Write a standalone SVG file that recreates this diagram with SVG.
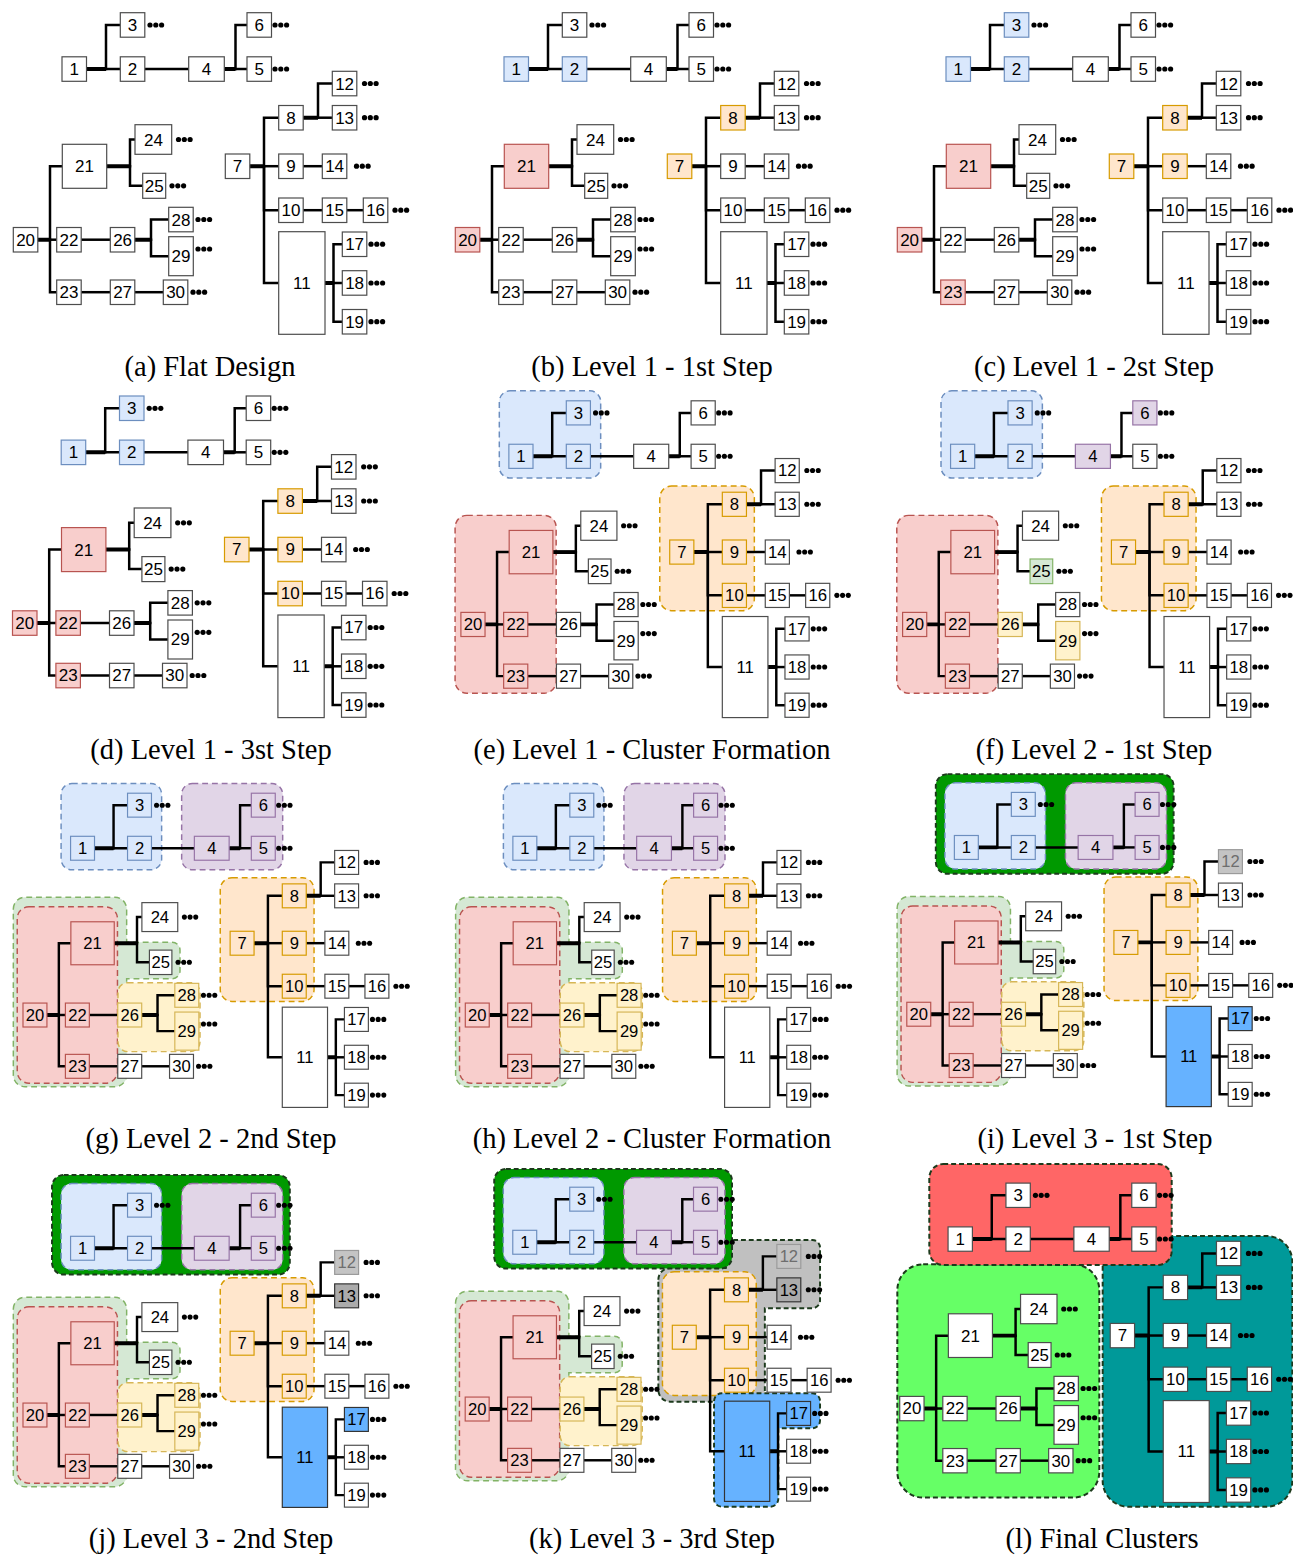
<svg xmlns="http://www.w3.org/2000/svg" xmlns:xlink="http://www.w3.org/1999/xlink" width="1293" height="1555" viewBox="0 0 1293 1555">
<style>
.n rect{stroke-width:1.2}
.n text{font-family:"Liberation Sans",Arial,sans-serif;font-size:17px;text-anchor:middle;fill:#000}
.w rect{fill:#fff;stroke:#4d4d4d}
.bl rect{fill:#dae8fc;stroke:#6c8ebf}
.rd rect{fill:#f8cecc;stroke:#b85450}
.or rect{fill:#ffe6cc;stroke:#d79b00}
.pu rect{fill:#e1d5e7;stroke:#9673a6}
.gr rect{fill:#d5e8d4;stroke:#82b366}
.ye rect{fill:#fff2cc;stroke:#d6b656}
.g1 rect{fill:#c4c4c4;stroke:#9a9a9a}
.g1 text{fill:#6e6e6e}
.g2 rect{fill:#ababab;stroke:#333}
.sb rect{fill:#66b2ff;stroke:#333}
.e path{fill:none;stroke:#000;stroke-width:2.5}
.e path.tk{stroke-width:4}
.c{stroke-width:1.5;stroke-dasharray:6 4}
.cd{stroke-width:2;stroke-dasharray:5 3;stroke:#1c3a1c}
.cb{fill:#dae8fc;stroke:#6c8ebf}
.cr{fill:#f8cecc;stroke:#b85450}
.co{fill:#ffe6cc;stroke:#d79b00}
.cp{fill:#e1d5e7;stroke:#9673a6}
.cg{fill:#d5e8d4;stroke:#82b366}
.cy{fill:#fff2cc;stroke:#d6b656}
.cG{fill:#009900}
.cgy{fill:#c0c0c0}
.csb{fill:#66b2ff}
.lr{fill:#ff6666}
.lg{fill:#66ff66}
.lt{fill:#009999}
.cap{font-family:"Liberation Serif","Times New Roman",serif;font-size:28.5px;text-anchor:middle;fill:#000}
</style>
<defs>
<g id="d3"><circle cx="2.5" cy="0" r="2.6"/><circle cx="8.3" cy="0" r="2.6"/><circle cx="14.1" cy="0" r="2.6"/></g>
</defs>

<!-- Panel a -->
<g id="pa">
<g id="a-edges" class="e">
<path d="M86.5 69H120.3"/><path d="M86.5 69H106V25H120.3"/><path d="M144.8 69H188.7"/><path d="M224.3 69H247"/><path d="M224.3 69H235.5V25H247"/><path d="M249.8 166.2H264V117.7H278.7"/><path d="M249.8 166.2H278.7"/><path d="M249.8 166.2H264V210.2H278.7"/><path d="M249.8 166.2H264V283H278.7"/><path d="M303.2 117.7H318V83.5H332.3"/><path d="M303.2 117.7H332.3"/><path d="M303.2 166.2H322.3"/><path d="M303.2 210.2H322.3"/><path d="M346.8 210.2H363.3"/><path d="M325 283H333.5V244.2H342.3"/><path d="M325 283H342.3"/><path d="M325 283H333.5V321.7H342.3"/><path d="M37.8 239.7H50V166.3H62.3"/><path d="M37.8 239.7H56.7"/><path d="M37.8 239.7H50V292.2H56.7"/><path d="M106.7 166.3H130V139.5H135"/><path d="M106.7 166.3H130V185.8H142.7"/><path d="M81.2 239.7H110.3"/><path d="M134.8 239.7H151V219.5H168.7"/><path d="M134.8 239.7H151V256.2H168.7"/><path d="M81.2 292.2H110.3"/><path d="M134.8 292.2H163.3"/>
<path class="tk" d="M86.5 69H106M224.3 69H235.5M303.2 117.7H318M249.8 166.2H264M106.7 166.3H130M37.8 239.7H50M134.8 239.7H151M325 283H333.5"/>
</g>
<g class="dots"><use href="#d3" x="147.5" y="25"/><use href="#d3" x="272.5" y="25"/><use href="#d3" x="272.5" y="69"/><use href="#d3" x="362" y="83.5"/><use href="#d3" x="362" y="117.7"/><use href="#d3" x="354" y="166.2"/><use href="#d3" x="392.5" y="210.2"/><use href="#d3" x="368.5" y="244.2"/><use href="#d3" x="368.5" y="283"/><use href="#d3" x="368.5" y="321.7"/><use href="#d3" x="176" y="139.5"/><use href="#d3" x="169.5" y="185.8"/><use href="#d3" x="195.5" y="219.5"/><use href="#d3" x="195.5" y="249"/><use href="#d3" x="190.5" y="292.2"/></g>
<g id="a1" class="n w"><rect x="62" y="56.8" width="24.5" height="24.5"/><text x="74.3" y="75">1</text></g>
<g id="a2" class="n w"><rect x="120.3" y="56.8" width="24.5" height="24.5"/><text x="132.6" y="75">2</text></g>
<g id="a3" class="n w"><rect x="120.3" y="12.7" width="24.5" height="24.5"/><text x="132.6" y="30.9">3</text></g>
<g id="a4" class="n w"><rect x="188.7" y="56.8" width="35.6" height="24.5"/><text x="206.5" y="75">4</text></g>
<g id="a5" class="n w"><rect x="247" y="56.8" width="24.5" height="24.5"/><text x="259.3" y="75">5</text></g>
<g id="a6" class="n w"><rect x="247" y="12.7" width="24.5" height="24.5"/><text x="259.3" y="30.9">6</text></g>
<g id="a7" class="n w"><rect x="225.3" y="154" width="24.5" height="24.5"/><text x="237.6" y="172.2">7</text></g>
<g id="a8" class="n w"><rect x="278.7" y="105.5" width="24.5" height="24.5"/><text x="291" y="123.7">8</text></g>
<g id="a9" class="n w"><rect x="278.7" y="154" width="24.5" height="24.5"/><text x="291" y="172.2">9</text></g>
<g id="a10" class="n w"><rect x="278.7" y="198" width="24.5" height="24.5"/><text x="291" y="216.2">10</text></g>
<g id="a11" class="n w"><rect x="278.7" y="231.7" width="46.3" height="102.6"/><text x="301.9" y="289">11</text></g>
<g id="a12" class="n w"><rect x="332.3" y="71.3" width="24.5" height="24.5"/><text x="344.6" y="89.5">12</text></g>
<g id="a13" class="n w"><rect x="332.3" y="105.5" width="24.5" height="24.5"/><text x="344.6" y="123.7">13</text></g>
<g id="a14" class="n w"><rect x="322.3" y="154" width="24.5" height="24.5"/><text x="334.6" y="172.2">14</text></g>
<g id="a15" class="n w"><rect x="322.3" y="198" width="24.5" height="24.5"/><text x="334.6" y="216.2">15</text></g>
<g id="a16" class="n w"><rect x="363.3" y="198" width="24.5" height="24.5"/><text x="375.6" y="216.2">16</text></g>
<g id="a17" class="n w"><rect x="342.3" y="232" width="24.5" height="24.5"/><text x="354.6" y="250.2">17</text></g>
<g id="a18" class="n w"><rect x="342.3" y="270.7" width="24.5" height="24.5"/><text x="354.6" y="288.9">18</text></g>
<g id="a19" class="n w"><rect x="342.3" y="309.5" width="24.5" height="24.5"/><text x="354.6" y="327.7">19</text></g>
<g id="a20" class="n w"><rect x="13.3" y="227.5" width="24.5" height="24.5"/><text x="25.6" y="245.7">20</text></g>
<g id="a21" class="n w"><rect x="62.3" y="144.3" width="44.4" height="44"/><text x="84.5" y="172.3">21</text></g>
<g id="a22" class="n w"><rect x="56.7" y="227.5" width="24.5" height="24.5"/><text x="69" y="245.7">22</text></g>
<g id="a23" class="n w"><rect x="56.7" y="280" width="24.5" height="24.5"/><text x="69" y="298.2">23</text></g>
<g id="a24" class="n w"><rect x="135" y="124.7" width="36.7" height="29.6"/><text x="153.4" y="145.5">24</text></g>
<g id="a25" class="n w"><rect x="142.7" y="173.3" width="23" height="25"/><text x="154.2" y="191.8">25</text></g>
<g id="a26" class="n w"><rect x="110.3" y="227.5" width="24.5" height="24.5"/><text x="122.6" y="245.7">26</text></g>
<g id="a27" class="n w"><rect x="110.3" y="280" width="24.5" height="24.5"/><text x="122.6" y="298.2">27</text></g>
<g id="a28" class="n w"><rect x="168.7" y="207.3" width="24.5" height="24.5"/><text x="181" y="225.5">28</text></g>
<g id="a29" class="n w"><rect x="168.7" y="236.7" width="24.6" height="39"/><text x="181" y="262.2">29</text></g>
<g id="a30" class="n w"><rect x="163.3" y="280" width="24.5" height="24.5"/><text x="175.6" y="298.2">30</text></g>
</g>

<!-- Panel b -->
<g id="pb" transform="translate(442,0)">
<g id="b-edges" class="e">
<path d="M86.5 69H120.3"/><path d="M86.5 69H106V25H120.3"/><path d="M144.8 69H188.7"/><path d="M224.3 69H247"/><path d="M224.3 69H235.5V25H247"/><path d="M249.8 166.2H264V117.7H278.7"/><path d="M249.8 166.2H278.7"/><path d="M249.8 166.2H264V210.2H278.7"/><path d="M249.8 166.2H264V283H278.7"/><path d="M303.2 117.7H318V83.5H332.3"/><path d="M303.2 117.7H332.3"/><path d="M303.2 166.2H322.3"/><path d="M303.2 210.2H322.3"/><path d="M346.8 210.2H363.3"/><path d="M325 283H333.5V244.2H342.3"/><path d="M325 283H342.3"/><path d="M325 283H333.5V321.7H342.3"/><path d="M37.8 239.7H50V166.3H62.3"/><path d="M37.8 239.7H56.7"/><path d="M37.8 239.7H50V292.2H56.7"/><path d="M106.7 166.3H130V139.5H135"/><path d="M106.7 166.3H130V185.8H142.7"/><path d="M81.2 239.7H110.3"/><path d="M134.8 239.7H151V219.5H168.7"/><path d="M134.8 239.7H151V256.2H168.7"/><path d="M81.2 292.2H110.3"/><path d="M134.8 292.2H163.3"/>
<path class="tk" d="M86.5 69H106M224.3 69H235.5M303.2 117.7H318M249.8 166.2H264M106.7 166.3H130M37.8 239.7H50M134.8 239.7H151M325 283H333.5"/>
</g>
<g class="dots"><use href="#d3" x="147.5" y="25"/><use href="#d3" x="272.5" y="25"/><use href="#d3" x="272.5" y="69"/><use href="#d3" x="362" y="83.5"/><use href="#d3" x="362" y="117.7"/><use href="#d3" x="354" y="166.2"/><use href="#d3" x="392.5" y="210.2"/><use href="#d3" x="368.5" y="244.2"/><use href="#d3" x="368.5" y="283"/><use href="#d3" x="368.5" y="321.7"/><use href="#d3" x="176" y="139.5"/><use href="#d3" x="169.5" y="185.8"/><use href="#d3" x="195.5" y="219.5"/><use href="#d3" x="195.5" y="249"/><use href="#d3" x="190.5" y="292.2"/></g>
<g id="b1" class="n bl"><rect x="62" y="56.8" width="24.5" height="24.5"/><text x="74.3" y="75">1</text></g>
<g id="b2" class="n bl"><rect x="120.3" y="56.8" width="24.5" height="24.5"/><text x="132.6" y="75">2</text></g>
<g id="b3" class="n w"><rect x="120.3" y="12.7" width="24.5" height="24.5"/><text x="132.6" y="30.9">3</text></g>
<g id="b4" class="n w"><rect x="188.7" y="56.8" width="35.6" height="24.5"/><text x="206.5" y="75">4</text></g>
<g id="b5" class="n w"><rect x="247" y="56.8" width="24.5" height="24.5"/><text x="259.3" y="75">5</text></g>
<g id="b6" class="n w"><rect x="247" y="12.7" width="24.5" height="24.5"/><text x="259.3" y="30.9">6</text></g>
<g id="b7" class="n or"><rect x="225.3" y="154" width="24.5" height="24.5"/><text x="237.6" y="172.2">7</text></g>
<g id="b8" class="n or"><rect x="278.7" y="105.5" width="24.5" height="24.5"/><text x="291" y="123.7">8</text></g>
<g id="b9" class="n w"><rect x="278.7" y="154" width="24.5" height="24.5"/><text x="291" y="172.2">9</text></g>
<g id="b10" class="n w"><rect x="278.7" y="198" width="24.5" height="24.5"/><text x="291" y="216.2">10</text></g>
<g id="b11" class="n w"><rect x="278.7" y="231.7" width="46.3" height="102.6"/><text x="301.9" y="289">11</text></g>
<g id="b12" class="n w"><rect x="332.3" y="71.3" width="24.5" height="24.5"/><text x="344.6" y="89.5">12</text></g>
<g id="b13" class="n w"><rect x="332.3" y="105.5" width="24.5" height="24.5"/><text x="344.6" y="123.7">13</text></g>
<g id="b14" class="n w"><rect x="322.3" y="154" width="24.5" height="24.5"/><text x="334.6" y="172.2">14</text></g>
<g id="b15" class="n w"><rect x="322.3" y="198" width="24.5" height="24.5"/><text x="334.6" y="216.2">15</text></g>
<g id="b16" class="n w"><rect x="363.3" y="198" width="24.5" height="24.5"/><text x="375.6" y="216.2">16</text></g>
<g id="b17" class="n w"><rect x="342.3" y="232" width="24.5" height="24.5"/><text x="354.6" y="250.2">17</text></g>
<g id="b18" class="n w"><rect x="342.3" y="270.7" width="24.5" height="24.5"/><text x="354.6" y="288.9">18</text></g>
<g id="b19" class="n w"><rect x="342.3" y="309.5" width="24.5" height="24.5"/><text x="354.6" y="327.7">19</text></g>
<g id="b20" class="n rd"><rect x="13.3" y="227.5" width="24.5" height="24.5"/><text x="25.6" y="245.7">20</text></g>
<g id="b21" class="n rd"><rect x="62.3" y="144.3" width="44.4" height="44"/><text x="84.5" y="172.3">21</text></g>
<g id="b22" class="n w"><rect x="56.7" y="227.5" width="24.5" height="24.5"/><text x="69" y="245.7">22</text></g>
<g id="b23" class="n w"><rect x="56.7" y="280" width="24.5" height="24.5"/><text x="69" y="298.2">23</text></g>
<g id="b24" class="n w"><rect x="135" y="124.7" width="36.7" height="29.6"/><text x="153.4" y="145.5">24</text></g>
<g id="b25" class="n w"><rect x="142.7" y="173.3" width="23" height="25"/><text x="154.2" y="191.8">25</text></g>
<g id="b26" class="n w"><rect x="110.3" y="227.5" width="24.5" height="24.5"/><text x="122.6" y="245.7">26</text></g>
<g id="b27" class="n w"><rect x="110.3" y="280" width="24.5" height="24.5"/><text x="122.6" y="298.2">27</text></g>
<g id="b28" class="n w"><rect x="168.7" y="207.3" width="24.5" height="24.5"/><text x="181" y="225.5">28</text></g>
<g id="b29" class="n w"><rect x="168.7" y="236.7" width="24.6" height="39"/><text x="181" y="262.2">29</text></g>
<g id="b30" class="n w"><rect x="163.3" y="280" width="24.5" height="24.5"/><text x="175.6" y="298.2">30</text></g>
</g>

<!-- Panel c -->
<g id="pc" transform="translate(884,0)">
<g id="c-edges" class="e">
<path d="M86.5 69H120.3"/><path d="M86.5 69H106V25H120.3"/><path d="M144.8 69H188.7"/><path d="M224.3 69H247"/><path d="M224.3 69H235.5V25H247"/><path d="M249.8 166.2H264V117.7H278.7"/><path d="M249.8 166.2H278.7"/><path d="M249.8 166.2H264V210.2H278.7"/><path d="M249.8 166.2H264V283H278.7"/><path d="M303.2 117.7H318V83.5H332.3"/><path d="M303.2 117.7H332.3"/><path d="M303.2 166.2H322.3"/><path d="M303.2 210.2H322.3"/><path d="M346.8 210.2H363.3"/><path d="M325 283H333.5V244.2H342.3"/><path d="M325 283H342.3"/><path d="M325 283H333.5V321.7H342.3"/><path d="M37.8 239.7H50V166.3H62.3"/><path d="M37.8 239.7H56.7"/><path d="M37.8 239.7H50V292.2H56.7"/><path d="M106.7 166.3H130V139.5H135"/><path d="M106.7 166.3H130V185.8H142.7"/><path d="M81.2 239.7H110.3"/><path d="M134.8 239.7H151V219.5H168.7"/><path d="M134.8 239.7H151V256.2H168.7"/><path d="M81.2 292.2H110.3"/><path d="M134.8 292.2H163.3"/>
<path class="tk" d="M86.5 69H106M224.3 69H235.5M303.2 117.7H318M249.8 166.2H264M106.7 166.3H130M37.8 239.7H50M134.8 239.7H151M325 283H333.5"/>
</g>
<g class="dots"><use href="#d3" x="147.5" y="25"/><use href="#d3" x="272.5" y="25"/><use href="#d3" x="272.5" y="69"/><use href="#d3" x="362" y="83.5"/><use href="#d3" x="362" y="117.7"/><use href="#d3" x="354" y="166.2"/><use href="#d3" x="392.5" y="210.2"/><use href="#d3" x="368.5" y="244.2"/><use href="#d3" x="368.5" y="283"/><use href="#d3" x="368.5" y="321.7"/><use href="#d3" x="176" y="139.5"/><use href="#d3" x="169.5" y="185.8"/><use href="#d3" x="195.5" y="219.5"/><use href="#d3" x="195.5" y="249"/><use href="#d3" x="190.5" y="292.2"/></g>
<g id="c1" class="n bl"><rect x="62" y="56.8" width="24.5" height="24.5"/><text x="74.3" y="75">1</text></g>
<g id="c2" class="n bl"><rect x="120.3" y="56.8" width="24.5" height="24.5"/><text x="132.6" y="75">2</text></g>
<g id="c3" class="n bl"><rect x="120.3" y="12.7" width="24.5" height="24.5"/><text x="132.6" y="30.9">3</text></g>
<g id="c4" class="n w"><rect x="188.7" y="56.8" width="35.6" height="24.5"/><text x="206.5" y="75">4</text></g>
<g id="c5" class="n w"><rect x="247" y="56.8" width="24.5" height="24.5"/><text x="259.3" y="75">5</text></g>
<g id="c6" class="n w"><rect x="247" y="12.7" width="24.5" height="24.5"/><text x="259.3" y="30.9">6</text></g>
<g id="c7" class="n or"><rect x="225.3" y="154" width="24.5" height="24.5"/><text x="237.6" y="172.2">7</text></g>
<g id="c8" class="n or"><rect x="278.7" y="105.5" width="24.5" height="24.5"/><text x="291" y="123.7">8</text></g>
<g id="c9" class="n or"><rect x="278.7" y="154" width="24.5" height="24.5"/><text x="291" y="172.2">9</text></g>
<g id="c10" class="n w"><rect x="278.7" y="198" width="24.5" height="24.5"/><text x="291" y="216.2">10</text></g>
<g id="c11" class="n w"><rect x="278.7" y="231.7" width="46.3" height="102.6"/><text x="301.9" y="289">11</text></g>
<g id="c12" class="n w"><rect x="332.3" y="71.3" width="24.5" height="24.5"/><text x="344.6" y="89.5">12</text></g>
<g id="c13" class="n w"><rect x="332.3" y="105.5" width="24.5" height="24.5"/><text x="344.6" y="123.7">13</text></g>
<g id="c14" class="n w"><rect x="322.3" y="154" width="24.5" height="24.5"/><text x="334.6" y="172.2">14</text></g>
<g id="c15" class="n w"><rect x="322.3" y="198" width="24.5" height="24.5"/><text x="334.6" y="216.2">15</text></g>
<g id="c16" class="n w"><rect x="363.3" y="198" width="24.5" height="24.5"/><text x="375.6" y="216.2">16</text></g>
<g id="c17" class="n w"><rect x="342.3" y="232" width="24.5" height="24.5"/><text x="354.6" y="250.2">17</text></g>
<g id="c18" class="n w"><rect x="342.3" y="270.7" width="24.5" height="24.5"/><text x="354.6" y="288.9">18</text></g>
<g id="c19" class="n w"><rect x="342.3" y="309.5" width="24.5" height="24.5"/><text x="354.6" y="327.7">19</text></g>
<g id="c20" class="n rd"><rect x="13.3" y="227.5" width="24.5" height="24.5"/><text x="25.6" y="245.7">20</text></g>
<g id="c21" class="n rd"><rect x="62.3" y="144.3" width="44.4" height="44"/><text x="84.5" y="172.3">21</text></g>
<g id="c22" class="n w"><rect x="56.7" y="227.5" width="24.5" height="24.5"/><text x="69" y="245.7">22</text></g>
<g id="c23" class="n rd"><rect x="56.7" y="280" width="24.5" height="24.5"/><text x="69" y="298.2">23</text></g>
<g id="c24" class="n w"><rect x="135" y="124.7" width="36.7" height="29.6"/><text x="153.4" y="145.5">24</text></g>
<g id="c25" class="n w"><rect x="142.7" y="173.3" width="23" height="25"/><text x="154.2" y="191.8">25</text></g>
<g id="c26" class="n w"><rect x="110.3" y="227.5" width="24.5" height="24.5"/><text x="122.6" y="245.7">26</text></g>
<g id="c27" class="n w"><rect x="110.3" y="280" width="24.5" height="24.5"/><text x="122.6" y="298.2">27</text></g>
<g id="c28" class="n w"><rect x="168.7" y="207.3" width="24.5" height="24.5"/><text x="181" y="225.5">28</text></g>
<g id="c29" class="n w"><rect x="168.7" y="236.7" width="24.6" height="39"/><text x="181" y="262.2">29</text></g>
<g id="c30" class="n w"><rect x="163.3" y="280" width="24.5" height="24.5"/><text x="175.6" y="298.2">30</text></g>
</g>

<!-- Panel d -->
<g id="pd" transform="translate(-0.8,383.3)">
<g id="d-edges" class="e">
<path d="M86.5 69H120.3"/><path d="M86.5 69H106V25H120.3"/><path d="M144.8 69H188.7"/><path d="M224.3 69H247"/><path d="M224.3 69H235.5V25H247"/><path d="M249.8 166.2H264V117.7H278.7"/><path d="M249.8 166.2H278.7"/><path d="M249.8 166.2H264V210.2H278.7"/><path d="M249.8 166.2H264V283H278.7"/><path d="M303.2 117.7H318V83.5H332.3"/><path d="M303.2 117.7H332.3"/><path d="M303.2 166.2H322.3"/><path d="M303.2 210.2H322.3"/><path d="M346.8 210.2H363.3"/><path d="M325 283H333.5V244.2H342.3"/><path d="M325 283H342.3"/><path d="M325 283H333.5V321.7H342.3"/><path d="M37.8 239.7H50V166.3H62.3"/><path d="M37.8 239.7H56.7"/><path d="M37.8 239.7H50V292.2H56.7"/><path d="M106.7 166.3H130V139.5H135"/><path d="M106.7 166.3H130V185.8H142.7"/><path d="M81.2 239.7H110.3"/><path d="M134.8 239.7H151V219.5H168.7"/><path d="M134.8 239.7H151V256.2H168.7"/><path d="M81.2 292.2H110.3"/><path d="M134.8 292.2H163.3"/>
<path class="tk" d="M86.5 69H106M224.3 69H235.5M303.2 117.7H318M249.8 166.2H264M106.7 166.3H130M37.8 239.7H50M134.8 239.7H151M325 283H333.5"/>
</g>
<g class="dots"><use href="#d3" x="147.5" y="25"/><use href="#d3" x="272.5" y="25"/><use href="#d3" x="272.5" y="69"/><use href="#d3" x="362" y="83.5"/><use href="#d3" x="362" y="117.7"/><use href="#d3" x="354" y="166.2"/><use href="#d3" x="392.5" y="210.2"/><use href="#d3" x="368.5" y="244.2"/><use href="#d3" x="368.5" y="283"/><use href="#d3" x="368.5" y="321.7"/><use href="#d3" x="176" y="139.5"/><use href="#d3" x="169.5" y="185.8"/><use href="#d3" x="195.5" y="219.5"/><use href="#d3" x="195.5" y="249"/><use href="#d3" x="190.5" y="292.2"/></g>
<g id="d1" class="n bl"><rect x="62" y="56.8" width="24.5" height="24.5"/><text x="74.3" y="75">1</text></g>
<g id="d2" class="n bl"><rect x="120.3" y="56.8" width="24.5" height="24.5"/><text x="132.6" y="75">2</text></g>
<g id="d3n" class="n bl"><rect x="120.3" y="12.7" width="24.5" height="24.5"/><text x="132.6" y="30.9">3</text></g>
<g id="d4" class="n w"><rect x="188.7" y="56.8" width="35.6" height="24.5"/><text x="206.5" y="75">4</text></g>
<g id="d5" class="n w"><rect x="247" y="56.8" width="24.5" height="24.5"/><text x="259.3" y="75">5</text></g>
<g id="d6" class="n w"><rect x="247" y="12.7" width="24.5" height="24.5"/><text x="259.3" y="30.9">6</text></g>
<g id="d7" class="n or"><rect x="225.3" y="154" width="24.5" height="24.5"/><text x="237.6" y="172.2">7</text></g>
<g id="d8" class="n or"><rect x="278.7" y="105.5" width="24.5" height="24.5"/><text x="291" y="123.7">8</text></g>
<g id="d9" class="n or"><rect x="278.7" y="154" width="24.5" height="24.5"/><text x="291" y="172.2">9</text></g>
<g id="d10" class="n or"><rect x="278.7" y="198" width="24.5" height="24.5"/><text x="291" y="216.2">10</text></g>
<g id="d11" class="n w"><rect x="278.7" y="231.7" width="46.3" height="102.6"/><text x="301.9" y="289">11</text></g>
<g id="d12" class="n w"><rect x="332.3" y="71.3" width="24.5" height="24.5"/><text x="344.6" y="89.5">12</text></g>
<g id="d13" class="n w"><rect x="332.3" y="105.5" width="24.5" height="24.5"/><text x="344.6" y="123.7">13</text></g>
<g id="d14" class="n w"><rect x="322.3" y="154" width="24.5" height="24.5"/><text x="334.6" y="172.2">14</text></g>
<g id="d15" class="n w"><rect x="322.3" y="198" width="24.5" height="24.5"/><text x="334.6" y="216.2">15</text></g>
<g id="d16" class="n w"><rect x="363.3" y="198" width="24.5" height="24.5"/><text x="375.6" y="216.2">16</text></g>
<g id="d17" class="n w"><rect x="342.3" y="232" width="24.5" height="24.5"/><text x="354.6" y="250.2">17</text></g>
<g id="d18" class="n w"><rect x="342.3" y="270.7" width="24.5" height="24.5"/><text x="354.6" y="288.9">18</text></g>
<g id="d19" class="n w"><rect x="342.3" y="309.5" width="24.5" height="24.5"/><text x="354.6" y="327.7">19</text></g>
<g id="d20" class="n rd"><rect x="13.3" y="227.5" width="24.5" height="24.5"/><text x="25.6" y="245.7">20</text></g>
<g id="d21" class="n rd"><rect x="62.3" y="144.3" width="44.4" height="44"/><text x="84.5" y="172.3">21</text></g>
<g id="d22" class="n rd"><rect x="56.7" y="227.5" width="24.5" height="24.5"/><text x="69" y="245.7">22</text></g>
<g id="d23" class="n rd"><rect x="56.7" y="280" width="24.5" height="24.5"/><text x="69" y="298.2">23</text></g>
<g id="d24" class="n w"><rect x="135" y="124.7" width="36.7" height="29.6"/><text x="153.4" y="145.5">24</text></g>
<g id="d25" class="n w"><rect x="142.7" y="173.3" width="23" height="25"/><text x="154.2" y="191.8">25</text></g>
<g id="d26" class="n w"><rect x="110.3" y="227.5" width="24.5" height="24.5"/><text x="122.6" y="245.7">26</text></g>
<g id="d27" class="n w"><rect x="110.3" y="280" width="24.5" height="24.5"/><text x="122.6" y="298.2">27</text></g>
<g id="d28" class="n w"><rect x="168.7" y="207.3" width="24.5" height="24.5"/><text x="181" y="225.5">28</text></g>
<g id="d29" class="n w"><rect x="168.7" y="236.7" width="24.6" height="39"/><text x="181" y="262.2">29</text></g>
<g id="d30" class="n w"><rect x="163.3" y="280" width="24.5" height="24.5"/><text x="175.6" y="298.2">30</text></g>
</g>

<!-- Panel e -->
<g id="pe" transform="translate(447.8,388.3) scale(0.985)">
<g id="e-clusters">
<rect class="c cb" x="52.3" y="2.6" width="102.9" height="88.5" rx="11"/>
<rect class="c cr" x="7.4" y="129" width="102.6" height="180.5" rx="12"/>
<rect class="c co" x="215.2" y="99.2" width="96" height="126.6" rx="12"/>
</g>
<g id="e-edges" class="e">
<path d="M86.5 69H120.3"/><path d="M86.5 69H106V25H120.3"/><path d="M144.8 69H188.7"/><path d="M224.3 69H247"/><path d="M224.3 69H235.5V25H247"/><path d="M249.8 166.2H264V117.7H278.7"/><path d="M249.8 166.2H278.7"/><path d="M249.8 166.2H264V210.2H278.7"/><path d="M249.8 166.2H264V283H278.7"/><path d="M303.2 117.7H318V83.5H332.3"/><path d="M303.2 117.7H332.3"/><path d="M303.2 166.2H322.3"/><path d="M303.2 210.2H322.3"/><path d="M346.8 210.2H363.3"/><path d="M325 283H333.5V244.2H342.3"/><path d="M325 283H342.3"/><path d="M325 283H333.5V321.7H342.3"/><path d="M37.8 239.7H50V166.3H62.3"/><path d="M37.8 239.7H56.7"/><path d="M37.8 239.7H50V292.2H56.7"/><path d="M106.7 166.3H130V139.5H135"/><path d="M106.7 166.3H130V185.8H142.7"/><path d="M81.2 239.7H110.3"/><path d="M134.8 239.7H151V219.5H168.7"/><path d="M134.8 239.7H151V256.2H168.7"/><path d="M81.2 292.2H110.3"/><path d="M134.8 292.2H163.3"/>
<path class="tk" d="M86.5 69H106M224.3 69H235.5M303.2 117.7H318M249.8 166.2H264M106.7 166.3H130M37.8 239.7H50M134.8 239.7H151M325 283H333.5"/>
</g>
<g class="dots"><use href="#d3" x="147.5" y="25"/><use href="#d3" x="272.5" y="25"/><use href="#d3" x="272.5" y="69"/><use href="#d3" x="362" y="83.5"/><use href="#d3" x="362" y="117.7"/><use href="#d3" x="354" y="166.2"/><use href="#d3" x="392.5" y="210.2"/><use href="#d3" x="368.5" y="244.2"/><use href="#d3" x="368.5" y="283"/><use href="#d3" x="368.5" y="321.7"/><use href="#d3" x="176" y="139.5"/><use href="#d3" x="169.5" y="185.8"/><use href="#d3" x="195.5" y="219.5"/><use href="#d3" x="195.5" y="249"/><use href="#d3" x="190.5" y="292.2"/></g>
<g id="e1" class="n bl"><rect x="62" y="56.8" width="24.5" height="24.5"/><text x="74.3" y="75">1</text></g>
<g id="e2" class="n bl"><rect x="120.3" y="56.8" width="24.5" height="24.5"/><text x="132.6" y="75">2</text></g>
<g id="e3" class="n bl"><rect x="120.3" y="12.7" width="24.5" height="24.5"/><text x="132.6" y="30.9">3</text></g>
<g id="e4" class="n w"><rect x="188.7" y="56.8" width="35.6" height="24.5"/><text x="206.5" y="75">4</text></g>
<g id="e5" class="n w"><rect x="247" y="56.8" width="24.5" height="24.5"/><text x="259.3" y="75">5</text></g>
<g id="e6" class="n w"><rect x="247" y="12.7" width="24.5" height="24.5"/><text x="259.3" y="30.9">6</text></g>
<g id="e7" class="n or"><rect x="225.3" y="154" width="24.5" height="24.5"/><text x="237.6" y="172.2">7</text></g>
<g id="e8" class="n or"><rect x="278.7" y="105.5" width="24.5" height="24.5"/><text x="291" y="123.7">8</text></g>
<g id="e9" class="n or"><rect x="278.7" y="154" width="24.5" height="24.5"/><text x="291" y="172.2">9</text></g>
<g id="e10" class="n or"><rect x="278.7" y="198" width="24.5" height="24.5"/><text x="291" y="216.2">10</text></g>
<g id="e11" class="n w"><rect x="278.7" y="231.7" width="46.3" height="102.6"/><text x="301.9" y="289">11</text></g>
<g id="e12" class="n w"><rect x="332.3" y="71.3" width="24.5" height="24.5"/><text x="344.6" y="89.5">12</text></g>
<g id="e13" class="n w"><rect x="332.3" y="105.5" width="24.5" height="24.5"/><text x="344.6" y="123.7">13</text></g>
<g id="e14" class="n w"><rect x="322.3" y="154" width="24.5" height="24.5"/><text x="334.6" y="172.2">14</text></g>
<g id="e15" class="n w"><rect x="322.3" y="198" width="24.5" height="24.5"/><text x="334.6" y="216.2">15</text></g>
<g id="e16" class="n w"><rect x="363.3" y="198" width="24.5" height="24.5"/><text x="375.6" y="216.2">16</text></g>
<g id="e17" class="n w"><rect x="342.3" y="232" width="24.5" height="24.5"/><text x="354.6" y="250.2">17</text></g>
<g id="e18" class="n w"><rect x="342.3" y="270.7" width="24.5" height="24.5"/><text x="354.6" y="288.9">18</text></g>
<g id="e19" class="n w"><rect x="342.3" y="309.5" width="24.5" height="24.5"/><text x="354.6" y="327.7">19</text></g>
<g id="e20" class="n rd"><rect x="13.3" y="227.5" width="24.5" height="24.5"/><text x="25.6" y="245.7">20</text></g>
<g id="e21" class="n rd"><rect x="62.3" y="144.3" width="44.4" height="44"/><text x="84.5" y="172.3">21</text></g>
<g id="e22" class="n rd"><rect x="56.7" y="227.5" width="24.5" height="24.5"/><text x="69" y="245.7">22</text></g>
<g id="e23" class="n rd"><rect x="56.7" y="280" width="24.5" height="24.5"/><text x="69" y="298.2">23</text></g>
<g id="e24" class="n w"><rect x="135" y="124.7" width="36.7" height="29.6"/><text x="153.4" y="145.5">24</text></g>
<g id="e25" class="n w"><rect x="142.7" y="173.3" width="23" height="25"/><text x="154.2" y="191.8">25</text></g>
<g id="e26" class="n w"><rect x="110.3" y="227.5" width="24.5" height="24.5"/><text x="122.6" y="245.7">26</text></g>
<g id="e27" class="n w"><rect x="110.3" y="280" width="24.5" height="24.5"/><text x="122.6" y="298.2">27</text></g>
<g id="e28" class="n w"><rect x="168.7" y="207.3" width="24.5" height="24.5"/><text x="181" y="225.5">28</text></g>
<g id="e29" class="n w"><rect x="168.7" y="236.7" width="24.6" height="39"/><text x="181" y="262.2">29</text></g>
<g id="e30" class="n w"><rect x="163.3" y="280" width="24.5" height="24.5"/><text x="175.6" y="298.2">30</text></g>
</g>

<!-- Panel f -->
<g id="pf" transform="translate(889.5,388.3) scale(0.985)">
<g id="f-clusters">
<rect class="c cb" x="52.3" y="2.6" width="102.9" height="88.5" rx="11"/>
<rect class="c cr" x="7.4" y="129" width="102.6" height="180.5" rx="12"/>
<rect class="c co" x="215.2" y="99.2" width="96" height="126.6" rx="12"/>
</g>
<g id="f-edges" class="e">
<path d="M86.5 69H120.3"/><path d="M86.5 69H106V25H120.3"/><path d="M144.8 69H188.7"/><path d="M224.3 69H247"/><path d="M224.3 69H235.5V25H247"/><path d="M249.8 166.2H264V117.7H278.7"/><path d="M249.8 166.2H278.7"/><path d="M249.8 166.2H264V210.2H278.7"/><path d="M249.8 166.2H264V283H278.7"/><path d="M303.2 117.7H318V83.5H332.3"/><path d="M303.2 117.7H332.3"/><path d="M303.2 166.2H322.3"/><path d="M303.2 210.2H322.3"/><path d="M346.8 210.2H363.3"/><path d="M325 283H333.5V244.2H342.3"/><path d="M325 283H342.3"/><path d="M325 283H333.5V321.7H342.3"/><path d="M37.8 239.7H50V166.3H62.3"/><path d="M37.8 239.7H56.7"/><path d="M37.8 239.7H50V292.2H56.7"/><path d="M106.7 166.3H130V139.5H135"/><path d="M106.7 166.3H130V185.8H142.7"/><path d="M81.2 239.7H110.3"/><path d="M134.8 239.7H151V219.5H168.7"/><path d="M134.8 239.7H151V256.2H168.7"/><path d="M81.2 292.2H110.3"/><path d="M134.8 292.2H163.3"/>
<path class="tk" d="M86.5 69H106M224.3 69H235.5M303.2 117.7H318M249.8 166.2H264M106.7 166.3H130M37.8 239.7H50M134.8 239.7H151M325 283H333.5"/>
</g>
<g class="dots"><use href="#d3" x="147.5" y="25"/><use href="#d3" x="272.5" y="25"/><use href="#d3" x="272.5" y="69"/><use href="#d3" x="362" y="83.5"/><use href="#d3" x="362" y="117.7"/><use href="#d3" x="354" y="166.2"/><use href="#d3" x="392.5" y="210.2"/><use href="#d3" x="368.5" y="244.2"/><use href="#d3" x="368.5" y="283"/><use href="#d3" x="368.5" y="321.7"/><use href="#d3" x="176" y="139.5"/><use href="#d3" x="169.5" y="185.8"/><use href="#d3" x="195.5" y="219.5"/><use href="#d3" x="195.5" y="249"/><use href="#d3" x="190.5" y="292.2"/></g>
<g id="f1" class="n bl"><rect x="62" y="56.8" width="24.5" height="24.5"/><text x="74.3" y="75">1</text></g>
<g id="f2" class="n bl"><rect x="120.3" y="56.8" width="24.5" height="24.5"/><text x="132.6" y="75">2</text></g>
<g id="f3" class="n bl"><rect x="120.3" y="12.7" width="24.5" height="24.5"/><text x="132.6" y="30.9">3</text></g>
<g id="f4" class="n pu"><rect x="188.7" y="56.8" width="35.6" height="24.5"/><text x="206.5" y="75">4</text></g>
<g id="f5" class="n w"><rect x="247" y="56.8" width="24.5" height="24.5"/><text x="259.3" y="75">5</text></g>
<g id="f6" class="n pu"><rect x="247" y="12.7" width="24.5" height="24.5"/><text x="259.3" y="30.9">6</text></g>
<g id="f7" class="n or"><rect x="225.3" y="154" width="24.5" height="24.5"/><text x="237.6" y="172.2">7</text></g>
<g id="f8" class="n or"><rect x="278.7" y="105.5" width="24.5" height="24.5"/><text x="291" y="123.7">8</text></g>
<g id="f9" class="n or"><rect x="278.7" y="154" width="24.5" height="24.5"/><text x="291" y="172.2">9</text></g>
<g id="f10" class="n or"><rect x="278.7" y="198" width="24.5" height="24.5"/><text x="291" y="216.2">10</text></g>
<g id="f11" class="n w"><rect x="278.7" y="231.7" width="46.3" height="102.6"/><text x="301.9" y="289">11</text></g>
<g id="f12" class="n w"><rect x="332.3" y="71.3" width="24.5" height="24.5"/><text x="344.6" y="89.5">12</text></g>
<g id="f13" class="n w"><rect x="332.3" y="105.5" width="24.5" height="24.5"/><text x="344.6" y="123.7">13</text></g>
<g id="f14" class="n w"><rect x="322.3" y="154" width="24.5" height="24.5"/><text x="334.6" y="172.2">14</text></g>
<g id="f15" class="n w"><rect x="322.3" y="198" width="24.5" height="24.5"/><text x="334.6" y="216.2">15</text></g>
<g id="f16" class="n w"><rect x="363.3" y="198" width="24.5" height="24.5"/><text x="375.6" y="216.2">16</text></g>
<g id="f17" class="n w"><rect x="342.3" y="232" width="24.5" height="24.5"/><text x="354.6" y="250.2">17</text></g>
<g id="f18" class="n w"><rect x="342.3" y="270.7" width="24.5" height="24.5"/><text x="354.6" y="288.9">18</text></g>
<g id="f19" class="n w"><rect x="342.3" y="309.5" width="24.5" height="24.5"/><text x="354.6" y="327.7">19</text></g>
<g id="f20" class="n rd"><rect x="13.3" y="227.5" width="24.5" height="24.5"/><text x="25.6" y="245.7">20</text></g>
<g id="f21" class="n rd"><rect x="62.3" y="144.3" width="44.4" height="44"/><text x="84.5" y="172.3">21</text></g>
<g id="f22" class="n rd"><rect x="56.7" y="227.5" width="24.5" height="24.5"/><text x="69" y="245.7">22</text></g>
<g id="f23" class="n rd"><rect x="56.7" y="280" width="24.5" height="24.5"/><text x="69" y="298.2">23</text></g>
<g id="f24" class="n w"><rect x="135" y="124.7" width="36.7" height="29.6"/><text x="153.4" y="145.5">24</text></g>
<g id="f25" class="n gr"><rect x="142.7" y="173.3" width="23" height="25"/><text x="154.2" y="191.8">25</text></g>
<g id="f26" class="n ye"><rect x="110.3" y="227.5" width="24.5" height="24.5"/><text x="122.6" y="245.7">26</text></g>
<g id="f27" class="n w"><rect x="110.3" y="280" width="24.5" height="24.5"/><text x="122.6" y="298.2">27</text></g>
<g id="f28" class="n w"><rect x="168.7" y="207.3" width="24.5" height="24.5"/><text x="181" y="225.5">28</text></g>
<g id="f29" class="n ye"><rect x="168.7" y="236.7" width="24.6" height="39"/><text x="181" y="262.2">29</text></g>
<g id="f30" class="n w"><rect x="163.3" y="280" width="24.5" height="24.5"/><text x="175.6" y="298.2">30</text></g>
</g>

<!-- Panel g -->
<g id="pg" transform="translate(10,780.8) scale(0.977)">
<g id="g-clusters">
<path class="c cg" d="M3.4 131.2A12 12 0 0 1 15.4 119.2H107.4A12 12 0 0 1 119.4 131.2V165.3H166A8 8 0 0 1 174 173.3V194.6A8 8 0 0 1 166 202.6H119.4V301.1A12 12 0 0 1 107.4 313.1H15.4A12 12 0 0 1 3.4 301.1Z"/>
<rect class="c cr" x="7.4" y="129" width="102.6" height="180.5" rx="12"/>
<rect class="c cy" x="110.5" y="206.6" width="84" height="70.6" rx="10"/>
<rect class="c cb" x="52.3" y="2.8" width="102.9" height="88.3" rx="11"/>
<rect class="c cp" x="175.7" y="2.8" width="103.4" height="88.3" rx="11"/>
<rect class="c co" x="215.2" y="99.2" width="96" height="126.6" rx="12"/>
</g>
<g id="g-edges" class="e">
<path d="M86.5 69H120.3"/><path d="M86.5 69H106V25H120.3"/><path d="M144.8 69H188.7"/><path d="M224.3 69H247"/><path d="M224.3 69H235.5V25H247"/><path d="M249.8 166.2H264V117.7H278.7"/><path d="M249.8 166.2H278.7"/><path d="M249.8 166.2H264V210.2H278.7"/><path d="M249.8 166.2H264V283H278.7"/><path d="M303.2 117.7H318V83.5H332.3"/><path d="M303.2 117.7H332.3"/><path d="M303.2 166.2H322.3"/><path d="M303.2 210.2H322.3"/><path d="M346.8 210.2H363.3"/><path d="M325 283H333.5V244.2H342.3"/><path d="M325 283H342.3"/><path d="M325 283H333.5V321.7H342.3"/><path d="M37.8 239.7H50V166.3H62.3"/><path d="M37.8 239.7H56.7"/><path d="M37.8 239.7H50V292.2H56.7"/><path d="M106.7 166.3H130V139.5H135"/><path d="M106.7 166.3H130V185.8H142.7"/><path d="M81.2 239.7H110.3"/><path d="M134.8 239.7H151V219.5H168.7"/><path d="M134.8 239.7H151V256.2H168.7"/><path d="M81.2 292.2H110.3"/><path d="M134.8 292.2H163.3"/>
<path class="tk" d="M86.5 69H106M224.3 69H235.5M303.2 117.7H318M249.8 166.2H264M106.7 166.3H130M37.8 239.7H50M134.8 239.7H151M325 283H333.5"/>
</g>
<g class="dots"><use href="#d3" x="147.5" y="25"/><use href="#d3" x="272.5" y="25"/><use href="#d3" x="272.5" y="69"/><use href="#d3" x="362" y="83.5"/><use href="#d3" x="362" y="117.7"/><use href="#d3" x="354" y="166.2"/><use href="#d3" x="392.5" y="210.2"/><use href="#d3" x="368.5" y="244.2"/><use href="#d3" x="368.5" y="283"/><use href="#d3" x="368.5" y="321.7"/><use href="#d3" x="176" y="139.5"/><use href="#d3" x="169.5" y="185.8"/><use href="#d3" x="195.5" y="219.5"/><use href="#d3" x="195.5" y="249"/><use href="#d3" x="190.5" y="292.2"/></g>
<g id="g1" class="n bl"><rect x="62" y="56.8" width="24.5" height="24.5"/><text x="74.3" y="75">1</text></g>
<g id="g2" class="n bl"><rect x="120.3" y="56.8" width="24.5" height="24.5"/><text x="132.6" y="75">2</text></g>
<g id="g3" class="n bl"><rect x="120.3" y="12.7" width="24.5" height="24.5"/><text x="132.6" y="30.9">3</text></g>
<g id="g4" class="n pu"><rect x="188.7" y="56.8" width="35.6" height="24.5"/><text x="206.5" y="75">4</text></g>
<g id="g5" class="n pu"><rect x="247" y="56.8" width="24.5" height="24.5"/><text x="259.3" y="75">5</text></g>
<g id="g6" class="n pu"><rect x="247" y="12.7" width="24.5" height="24.5"/><text x="259.3" y="30.9">6</text></g>
<g id="g7" class="n or"><rect x="225.3" y="154" width="24.5" height="24.5"/><text x="237.6" y="172.2">7</text></g>
<g id="g8" class="n or"><rect x="278.7" y="105.5" width="24.5" height="24.5"/><text x="291" y="123.7">8</text></g>
<g id="g9" class="n or"><rect x="278.7" y="154" width="24.5" height="24.5"/><text x="291" y="172.2">9</text></g>
<g id="g10" class="n or"><rect x="278.7" y="198" width="24.5" height="24.5"/><text x="291" y="216.2">10</text></g>
<g id="g11" class="n w"><rect x="278.7" y="231.7" width="46.3" height="102.6"/><text x="301.9" y="289">11</text></g>
<g id="g12" class="n w"><rect x="332.3" y="71.3" width="24.5" height="24.5"/><text x="344.6" y="89.5">12</text></g>
<g id="g13" class="n w"><rect x="332.3" y="105.5" width="24.5" height="24.5"/><text x="344.6" y="123.7">13</text></g>
<g id="g14" class="n w"><rect x="322.3" y="154" width="24.5" height="24.5"/><text x="334.6" y="172.2">14</text></g>
<g id="g15" class="n w"><rect x="322.3" y="198" width="24.5" height="24.5"/><text x="334.6" y="216.2">15</text></g>
<g id="g16" class="n w"><rect x="363.3" y="198" width="24.5" height="24.5"/><text x="375.6" y="216.2">16</text></g>
<g id="g17" class="n w"><rect x="342.3" y="232" width="24.5" height="24.5"/><text x="354.6" y="250.2">17</text></g>
<g id="g18" class="n w"><rect x="342.3" y="270.7" width="24.5" height="24.5"/><text x="354.6" y="288.9">18</text></g>
<g id="g19" class="n w"><rect x="342.3" y="309.5" width="24.5" height="24.5"/><text x="354.6" y="327.7">19</text></g>
<g id="g20" class="n rd"><rect x="13.3" y="227.5" width="24.5" height="24.5"/><text x="25.6" y="245.7">20</text></g>
<g id="g21" class="n rd"><rect x="62.3" y="144.3" width="44.4" height="44"/><text x="84.5" y="172.3">21</text></g>
<g id="g22" class="n rd"><rect x="56.7" y="227.5" width="24.5" height="24.5"/><text x="69" y="245.7">22</text></g>
<g id="g23" class="n rd"><rect x="56.7" y="280" width="24.5" height="24.5"/><text x="69" y="298.2">23</text></g>
<g id="g24" class="n w"><rect x="135" y="124.7" width="36.7" height="29.6"/><text x="153.4" y="145.5">24</text></g>
<g id="g25" class="n w"><rect x="142.7" y="173.3" width="23" height="25"/><text x="154.2" y="191.8">25</text></g>
<g id="g26" class="n ye"><rect x="110.3" y="227.5" width="24.5" height="24.5"/><text x="122.6" y="245.7">26</text></g>
<g id="g27" class="n w"><rect x="110.3" y="280" width="24.5" height="24.5"/><text x="122.6" y="298.2">27</text></g>
<g id="g28" class="n ye"><rect x="168.7" y="207.3" width="24.5" height="24.5"/><text x="181" y="225.5">28</text></g>
<g id="g29" class="n ye"><rect x="168.7" y="236.7" width="24.6" height="39"/><text x="181" y="262.2">29</text></g>
<g id="g30" class="n w"><rect x="163.3" y="280" width="24.5" height="24.5"/><text x="175.6" y="298.2">30</text></g>
</g>

<!-- Panel h -->
<g id="ph" transform="translate(452.3,780.8) scale(0.977)">
<g id="h-clusters">
<path class="c cg" d="M3.4 131.2A12 12 0 0 1 15.4 119.2H107.4A12 12 0 0 1 119.4 131.2V165.3H166A8 8 0 0 1 174 173.3V194.6A8 8 0 0 1 166 202.6H119.4V301.1A12 12 0 0 1 107.4 313.1H15.4A12 12 0 0 1 3.4 301.1Z"/>
<rect class="c cr" x="7.4" y="129" width="102.6" height="180.5" rx="12"/>
<rect class="c cy" x="110.5" y="206.6" width="84" height="70.6" rx="10"/>
<rect class="c cb" x="52.3" y="2.8" width="102.9" height="88.3" rx="11"/>
<rect class="c cp" x="175.7" y="2.8" width="103.4" height="88.3" rx="11"/>
<rect class="c co" x="215.2" y="99.2" width="96" height="126.6" rx="12"/>
</g>
<g id="h-edges" class="e">
<path d="M86.5 69H120.3"/><path d="M86.5 69H106V25H120.3"/><path d="M144.8 69H188.7"/><path d="M224.3 69H247"/><path d="M224.3 69H235.5V25H247"/><path d="M249.8 166.2H264V117.7H278.7"/><path d="M249.8 166.2H278.7"/><path d="M249.8 166.2H264V210.2H278.7"/><path d="M249.8 166.2H264V283H278.7"/><path d="M303.2 117.7H318V83.5H332.3"/><path d="M303.2 117.7H332.3"/><path d="M303.2 166.2H322.3"/><path d="M303.2 210.2H322.3"/><path d="M346.8 210.2H363.3"/><path d="M325 283H333.5V244.2H342.3"/><path d="M325 283H342.3"/><path d="M325 283H333.5V321.7H342.3"/><path d="M37.8 239.7H50V166.3H62.3"/><path d="M37.8 239.7H56.7"/><path d="M37.8 239.7H50V292.2H56.7"/><path d="M106.7 166.3H130V139.5H135"/><path d="M106.7 166.3H130V185.8H142.7"/><path d="M81.2 239.7H110.3"/><path d="M134.8 239.7H151V219.5H168.7"/><path d="M134.8 239.7H151V256.2H168.7"/><path d="M81.2 292.2H110.3"/><path d="M134.8 292.2H163.3"/>
<path class="tk" d="M86.5 69H106M224.3 69H235.5M303.2 117.7H318M249.8 166.2H264M106.7 166.3H130M37.8 239.7H50M134.8 239.7H151M325 283H333.5"/>
</g>
<g class="dots"><use href="#d3" x="147.5" y="25"/><use href="#d3" x="272.5" y="25"/><use href="#d3" x="272.5" y="69"/><use href="#d3" x="362" y="83.5"/><use href="#d3" x="362" y="117.7"/><use href="#d3" x="354" y="166.2"/><use href="#d3" x="392.5" y="210.2"/><use href="#d3" x="368.5" y="244.2"/><use href="#d3" x="368.5" y="283"/><use href="#d3" x="368.5" y="321.7"/><use href="#d3" x="176" y="139.5"/><use href="#d3" x="169.5" y="185.8"/><use href="#d3" x="195.5" y="219.5"/><use href="#d3" x="195.5" y="249"/><use href="#d3" x="190.5" y="292.2"/></g>
<g id="h1" class="n bl"><rect x="62" y="56.8" width="24.5" height="24.5"/><text x="74.3" y="75">1</text></g>
<g id="h2" class="n bl"><rect x="120.3" y="56.8" width="24.5" height="24.5"/><text x="132.6" y="75">2</text></g>
<g id="h3" class="n bl"><rect x="120.3" y="12.7" width="24.5" height="24.5"/><text x="132.6" y="30.9">3</text></g>
<g id="h4" class="n pu"><rect x="188.7" y="56.8" width="35.6" height="24.5"/><text x="206.5" y="75">4</text></g>
<g id="h5" class="n pu"><rect x="247" y="56.8" width="24.5" height="24.5"/><text x="259.3" y="75">5</text></g>
<g id="h6" class="n pu"><rect x="247" y="12.7" width="24.5" height="24.5"/><text x="259.3" y="30.9">6</text></g>
<g id="h7" class="n or"><rect x="225.3" y="154" width="24.5" height="24.5"/><text x="237.6" y="172.2">7</text></g>
<g id="h8" class="n or"><rect x="278.7" y="105.5" width="24.5" height="24.5"/><text x="291" y="123.7">8</text></g>
<g id="h9" class="n or"><rect x="278.7" y="154" width="24.5" height="24.5"/><text x="291" y="172.2">9</text></g>
<g id="h10" class="n or"><rect x="278.7" y="198" width="24.5" height="24.5"/><text x="291" y="216.2">10</text></g>
<g id="h11" class="n w"><rect x="278.7" y="231.7" width="46.3" height="102.6"/><text x="301.9" y="289">11</text></g>
<g id="h12" class="n w"><rect x="332.3" y="71.3" width="24.5" height="24.5"/><text x="344.6" y="89.5">12</text></g>
<g id="h13" class="n w"><rect x="332.3" y="105.5" width="24.5" height="24.5"/><text x="344.6" y="123.7">13</text></g>
<g id="h14" class="n w"><rect x="322.3" y="154" width="24.5" height="24.5"/><text x="334.6" y="172.2">14</text></g>
<g id="h15" class="n w"><rect x="322.3" y="198" width="24.5" height="24.5"/><text x="334.6" y="216.2">15</text></g>
<g id="h16" class="n w"><rect x="363.3" y="198" width="24.5" height="24.5"/><text x="375.6" y="216.2">16</text></g>
<g id="h17" class="n w"><rect x="342.3" y="232" width="24.5" height="24.5"/><text x="354.6" y="250.2">17</text></g>
<g id="h18" class="n w"><rect x="342.3" y="270.7" width="24.5" height="24.5"/><text x="354.6" y="288.9">18</text></g>
<g id="h19" class="n w"><rect x="342.3" y="309.5" width="24.5" height="24.5"/><text x="354.6" y="327.7">19</text></g>
<g id="h20" class="n rd"><rect x="13.3" y="227.5" width="24.5" height="24.5"/><text x="25.6" y="245.7">20</text></g>
<g id="h21" class="n rd"><rect x="62.3" y="144.3" width="44.4" height="44"/><text x="84.5" y="172.3">21</text></g>
<g id="h22" class="n rd"><rect x="56.7" y="227.5" width="24.5" height="24.5"/><text x="69" y="245.7">22</text></g>
<g id="h23" class="n rd"><rect x="56.7" y="280" width="24.5" height="24.5"/><text x="69" y="298.2">23</text></g>
<g id="h24" class="n w"><rect x="135" y="124.7" width="36.7" height="29.6"/><text x="153.4" y="145.5">24</text></g>
<g id="h25" class="n w"><rect x="142.7" y="173.3" width="23" height="25"/><text x="154.2" y="191.8">25</text></g>
<g id="h26" class="n ye"><rect x="110.3" y="227.5" width="24.5" height="24.5"/><text x="122.6" y="245.7">26</text></g>
<g id="h27" class="n w"><rect x="110.3" y="280" width="24.5" height="24.5"/><text x="122.6" y="298.2">27</text></g>
<g id="h28" class="n ye"><rect x="168.7" y="207.3" width="24.5" height="24.5"/><text x="181" y="225.5">28</text></g>
<g id="h29" class="n ye"><rect x="168.7" y="236.7" width="24.6" height="39"/><text x="181" y="262.2">29</text></g>
<g id="h30" class="n w"><rect x="163.3" y="280" width="24.5" height="24.5"/><text x="175.6" y="298.2">30</text></g>
</g>

<!-- Panel i -->
<g id="pi" transform="translate(893.8,780) scale(0.977)">
<g id="i-clusters">
<path class="c cg" d="M3.4 131.2A12 12 0 0 1 15.4 119.2H107.4A12 12 0 0 1 119.4 131.2V165.3H166A8 8 0 0 1 174 173.3V194.6A8 8 0 0 1 166 202.6H119.4V301.1A12 12 0 0 1 107.4 313.1H15.4A12 12 0 0 1 3.4 301.1Z"/>
<rect class="c cr" x="7.4" y="129" width="102.6" height="180.5" rx="12"/>
<rect class="c cy" x="110.5" y="206.6" width="84" height="70.6" rx="10"/>
<rect class="cd cG" x="43" y="-6" width="243.4" height="102" rx="12"/>
<rect class="c cb" x="52.3" y="2.8" width="102.9" height="88.3" rx="11"/>
<rect class="c cp" x="175.7" y="2.8" width="103.4" height="88.3" rx="11"/>
<rect class="c co" x="215.2" y="99.2" width="96" height="126.6" rx="12"/>
</g>
<g id="i-edges" class="e">
<path d="M86.5 69H120.3"/><path d="M86.5 69H106V25H120.3"/><path d="M144.8 69H188.7"/><path d="M224.3 69H247"/><path d="M224.3 69H235.5V25H247"/><path d="M249.8 166.2H264V117.7H278.7"/><path d="M249.8 166.2H278.7"/><path d="M249.8 166.2H264V210.2H278.7"/><path d="M249.8 166.2H264V283H278.7"/><path d="M303.2 117.7H318V83.5H332.3"/><path d="M303.2 117.7H332.3"/><path d="M303.2 166.2H322.3"/><path d="M303.2 210.2H322.3"/><path d="M346.8 210.2H363.3"/><path d="M325 283H333.5V244.2H342.3"/><path d="M325 283H342.3"/><path d="M325 283H333.5V321.7H342.3"/><path d="M37.8 239.7H50V166.3H62.3"/><path d="M37.8 239.7H56.7"/><path d="M37.8 239.7H50V292.2H56.7"/><path d="M106.7 166.3H130V139.5H135"/><path d="M106.7 166.3H130V185.8H142.7"/><path d="M81.2 239.7H110.3"/><path d="M134.8 239.7H151V219.5H168.7"/><path d="M134.8 239.7H151V256.2H168.7"/><path d="M81.2 292.2H110.3"/><path d="M134.8 292.2H163.3"/>
<path class="tk" d="M86.5 69H106M224.3 69H235.5M303.2 117.7H318M249.8 166.2H264M106.7 166.3H130M37.8 239.7H50M134.8 239.7H151M325 283H333.5"/>
</g>
<g class="dots"><use href="#d3" x="147.5" y="25"/><use href="#d3" x="272.5" y="25"/><use href="#d3" x="272.5" y="69"/><use href="#d3" x="362" y="83.5"/><use href="#d3" x="362" y="117.7"/><use href="#d3" x="354" y="166.2"/><use href="#d3" x="392.5" y="210.2"/><use href="#d3" x="368.5" y="244.2"/><use href="#d3" x="368.5" y="283"/><use href="#d3" x="368.5" y="321.7"/><use href="#d3" x="176" y="139.5"/><use href="#d3" x="169.5" y="185.8"/><use href="#d3" x="195.5" y="219.5"/><use href="#d3" x="195.5" y="249"/><use href="#d3" x="190.5" y="292.2"/></g>
<g id="i1" class="n bl"><rect x="62" y="56.8" width="24.5" height="24.5"/><text x="74.3" y="75">1</text></g>
<g id="i2" class="n bl"><rect x="120.3" y="56.8" width="24.5" height="24.5"/><text x="132.6" y="75">2</text></g>
<g id="i3" class="n bl"><rect x="120.3" y="12.7" width="24.5" height="24.5"/><text x="132.6" y="30.9">3</text></g>
<g id="i4" class="n pu"><rect x="188.7" y="56.8" width="35.6" height="24.5"/><text x="206.5" y="75">4</text></g>
<g id="i5" class="n pu"><rect x="247" y="56.8" width="24.5" height="24.5"/><text x="259.3" y="75">5</text></g>
<g id="i6" class="n pu"><rect x="247" y="12.7" width="24.5" height="24.5"/><text x="259.3" y="30.9">6</text></g>
<g id="i7" class="n or"><rect x="225.3" y="154" width="24.5" height="24.5"/><text x="237.6" y="172.2">7</text></g>
<g id="i8" class="n or"><rect x="278.7" y="105.5" width="24.5" height="24.5"/><text x="291" y="123.7">8</text></g>
<g id="i9" class="n or"><rect x="278.7" y="154" width="24.5" height="24.5"/><text x="291" y="172.2">9</text></g>
<g id="i10" class="n or"><rect x="278.7" y="198" width="24.5" height="24.5"/><text x="291" y="216.2">10</text></g>
<g id="i11" class="n sb"><rect x="278.7" y="231.7" width="46.3" height="102.6"/><text x="301.9" y="289">11</text></g>
<g id="i12" class="n g1"><rect x="332.3" y="71.3" width="24.5" height="24.5"/><text x="344.6" y="89.5">12</text></g>
<g id="i13" class="n w"><rect x="332.3" y="105.5" width="24.5" height="24.5"/><text x="344.6" y="123.7">13</text></g>
<g id="i14" class="n w"><rect x="322.3" y="154" width="24.5" height="24.5"/><text x="334.6" y="172.2">14</text></g>
<g id="i15" class="n w"><rect x="322.3" y="198" width="24.5" height="24.5"/><text x="334.6" y="216.2">15</text></g>
<g id="i16" class="n w"><rect x="363.3" y="198" width="24.5" height="24.5"/><text x="375.6" y="216.2">16</text></g>
<g id="i17" class="n sb"><rect x="342.3" y="232" width="24.5" height="24.5"/><text x="354.6" y="250.2">17</text></g>
<g id="i18" class="n w"><rect x="342.3" y="270.7" width="24.5" height="24.5"/><text x="354.6" y="288.9">18</text></g>
<g id="i19" class="n w"><rect x="342.3" y="309.5" width="24.5" height="24.5"/><text x="354.6" y="327.7">19</text></g>
<g id="i20" class="n rd"><rect x="13.3" y="227.5" width="24.5" height="24.5"/><text x="25.6" y="245.7">20</text></g>
<g id="i21" class="n rd"><rect x="62.3" y="144.3" width="44.4" height="44"/><text x="84.5" y="172.3">21</text></g>
<g id="i22" class="n rd"><rect x="56.7" y="227.5" width="24.5" height="24.5"/><text x="69" y="245.7">22</text></g>
<g id="i23" class="n rd"><rect x="56.7" y="280" width="24.5" height="24.5"/><text x="69" y="298.2">23</text></g>
<g id="i24" class="n w"><rect x="135" y="124.7" width="36.7" height="29.6"/><text x="153.4" y="145.5">24</text></g>
<g id="i25" class="n w"><rect x="142.7" y="173.3" width="23" height="25"/><text x="154.2" y="191.8">25</text></g>
<g id="i26" class="n ye"><rect x="110.3" y="227.5" width="24.5" height="24.5"/><text x="122.6" y="245.7">26</text></g>
<g id="i27" class="n w"><rect x="110.3" y="280" width="24.5" height="24.5"/><text x="122.6" y="298.2">27</text></g>
<g id="i28" class="n ye"><rect x="168.7" y="207.3" width="24.5" height="24.5"/><text x="181" y="225.5">28</text></g>
<g id="i29" class="n ye"><rect x="168.7" y="236.7" width="24.6" height="39"/><text x="181" y="262.2">29</text></g>
<g id="i30" class="n w"><rect x="163.3" y="280" width="24.5" height="24.5"/><text x="175.6" y="298.2">30</text></g>
</g>

<!-- Panel j -->
<g id="pj" transform="translate(10,1180.8) scale(0.977)">
<g id="j-clusters">
<path class="c cg" d="M3.4 131.2A12 12 0 0 1 15.4 119.2H107.4A12 12 0 0 1 119.4 131.2V165.3H166A8 8 0 0 1 174 173.3V194.6A8 8 0 0 1 166 202.6H119.4V301.1A12 12 0 0 1 107.4 313.1H15.4A12 12 0 0 1 3.4 301.1Z"/>
<rect class="c cr" x="7.4" y="129" width="102.6" height="180.5" rx="12"/>
<rect class="c cy" x="110.5" y="206.6" width="84" height="70.6" rx="10"/>
<rect class="cd cG" x="43" y="-6" width="243.4" height="102" rx="12"/>
<rect class="c cb" x="52.3" y="2.8" width="102.9" height="88.3" rx="11"/>
<rect class="c cp" x="175.7" y="2.8" width="103.4" height="88.3" rx="11"/>
<rect class="c co" x="215.2" y="99.2" width="96" height="126.6" rx="12"/>
</g>
<g id="j-edges" class="e">
<path d="M86.5 69H120.3"/><path d="M86.5 69H106V25H120.3"/><path d="M144.8 69H188.7"/><path d="M224.3 69H247"/><path d="M224.3 69H235.5V25H247"/><path d="M249.8 166.2H264V117.7H278.7"/><path d="M249.8 166.2H278.7"/><path d="M249.8 166.2H264V210.2H278.7"/><path d="M249.8 166.2H264V283H278.7"/><path d="M303.2 117.7H318V83.5H332.3"/><path d="M303.2 117.7H332.3"/><path d="M303.2 166.2H322.3"/><path d="M303.2 210.2H322.3"/><path d="M346.8 210.2H363.3"/><path d="M325 283H333.5V244.2H342.3"/><path d="M325 283H342.3"/><path d="M325 283H333.5V321.7H342.3"/><path d="M37.8 239.7H50V166.3H62.3"/><path d="M37.8 239.7H56.7"/><path d="M37.8 239.7H50V292.2H56.7"/><path d="M106.7 166.3H130V139.5H135"/><path d="M106.7 166.3H130V185.8H142.7"/><path d="M81.2 239.7H110.3"/><path d="M134.8 239.7H151V219.5H168.7"/><path d="M134.8 239.7H151V256.2H168.7"/><path d="M81.2 292.2H110.3"/><path d="M134.8 292.2H163.3"/>
<path class="tk" d="M86.5 69H106M224.3 69H235.5M303.2 117.7H318M249.8 166.2H264M106.7 166.3H130M37.8 239.7H50M134.8 239.7H151M325 283H333.5"/>
</g>
<g class="dots"><use href="#d3" x="147.5" y="25"/><use href="#d3" x="272.5" y="25"/><use href="#d3" x="272.5" y="69"/><use href="#d3" x="362" y="83.5"/><use href="#d3" x="362" y="117.7"/><use href="#d3" x="354" y="166.2"/><use href="#d3" x="392.5" y="210.2"/><use href="#d3" x="368.5" y="244.2"/><use href="#d3" x="368.5" y="283"/><use href="#d3" x="368.5" y="321.7"/><use href="#d3" x="176" y="139.5"/><use href="#d3" x="169.5" y="185.8"/><use href="#d3" x="195.5" y="219.5"/><use href="#d3" x="195.5" y="249"/><use href="#d3" x="190.5" y="292.2"/></g>
<g id="j1" class="n bl"><rect x="62" y="56.8" width="24.5" height="24.5"/><text x="74.3" y="75">1</text></g>
<g id="j2" class="n bl"><rect x="120.3" y="56.8" width="24.5" height="24.5"/><text x="132.6" y="75">2</text></g>
<g id="j3" class="n bl"><rect x="120.3" y="12.7" width="24.5" height="24.5"/><text x="132.6" y="30.9">3</text></g>
<g id="j4" class="n pu"><rect x="188.7" y="56.8" width="35.6" height="24.5"/><text x="206.5" y="75">4</text></g>
<g id="j5" class="n pu"><rect x="247" y="56.8" width="24.5" height="24.5"/><text x="259.3" y="75">5</text></g>
<g id="j6" class="n pu"><rect x="247" y="12.7" width="24.5" height="24.5"/><text x="259.3" y="30.9">6</text></g>
<g id="j7" class="n or"><rect x="225.3" y="154" width="24.5" height="24.5"/><text x="237.6" y="172.2">7</text></g>
<g id="j8" class="n or"><rect x="278.7" y="105.5" width="24.5" height="24.5"/><text x="291" y="123.7">8</text></g>
<g id="j9" class="n or"><rect x="278.7" y="154" width="24.5" height="24.5"/><text x="291" y="172.2">9</text></g>
<g id="j10" class="n or"><rect x="278.7" y="198" width="24.5" height="24.5"/><text x="291" y="216.2">10</text></g>
<g id="j11" class="n sb"><rect x="278.7" y="231.7" width="46.3" height="102.6"/><text x="301.9" y="289">11</text></g>
<g id="j12" class="n g1"><rect x="332.3" y="71.3" width="24.5" height="24.5"/><text x="344.6" y="89.5">12</text></g>
<g id="j13" class="n g2"><rect x="332.3" y="105.5" width="24.5" height="24.5"/><text x="344.6" y="123.7">13</text></g>
<g id="j14" class="n w"><rect x="322.3" y="154" width="24.5" height="24.5"/><text x="334.6" y="172.2">14</text></g>
<g id="j15" class="n w"><rect x="322.3" y="198" width="24.5" height="24.5"/><text x="334.6" y="216.2">15</text></g>
<g id="j16" class="n w"><rect x="363.3" y="198" width="24.5" height="24.5"/><text x="375.6" y="216.2">16</text></g>
<g id="j17" class="n sb"><rect x="342.3" y="232" width="24.5" height="24.5"/><text x="354.6" y="250.2">17</text></g>
<g id="j18" class="n w"><rect x="342.3" y="270.7" width="24.5" height="24.5"/><text x="354.6" y="288.9">18</text></g>
<g id="j19" class="n w"><rect x="342.3" y="309.5" width="24.5" height="24.5"/><text x="354.6" y="327.7">19</text></g>
<g id="j20" class="n rd"><rect x="13.3" y="227.5" width="24.5" height="24.5"/><text x="25.6" y="245.7">20</text></g>
<g id="j21" class="n rd"><rect x="62.3" y="144.3" width="44.4" height="44"/><text x="84.5" y="172.3">21</text></g>
<g id="j22" class="n rd"><rect x="56.7" y="227.5" width="24.5" height="24.5"/><text x="69" y="245.7">22</text></g>
<g id="j23" class="n rd"><rect x="56.7" y="280" width="24.5" height="24.5"/><text x="69" y="298.2">23</text></g>
<g id="j24" class="n w"><rect x="135" y="124.7" width="36.7" height="29.6"/><text x="153.4" y="145.5">24</text></g>
<g id="j25" class="n w"><rect x="142.7" y="173.3" width="23" height="25"/><text x="154.2" y="191.8">25</text></g>
<g id="j26" class="n ye"><rect x="110.3" y="227.5" width="24.5" height="24.5"/><text x="122.6" y="245.7">26</text></g>
<g id="j27" class="n w"><rect x="110.3" y="280" width="24.5" height="24.5"/><text x="122.6" y="298.2">27</text></g>
<g id="j28" class="n ye"><rect x="168.7" y="207.3" width="24.5" height="24.5"/><text x="181" y="225.5">28</text></g>
<g id="j29" class="n ye"><rect x="168.7" y="236.7" width="24.6" height="39"/><text x="181" y="262.2">29</text></g>
<g id="j30" class="n w"><rect x="163.3" y="280" width="24.5" height="24.5"/><text x="175.6" y="298.2">30</text></g>
</g>

<!-- Panel k -->
<g id="pk" transform="translate(452.2,1174.8) scale(0.977)">
<g id="k-clusters">
<path class="c cg" d="M3.4 131.2A12 12 0 0 1 15.4 119.2H107.4A12 12 0 0 1 119.4 131.2V165.3H166A8 8 0 0 1 174 173.3V194.6A8 8 0 0 1 166 202.6H119.4V301.1A12 12 0 0 1 107.4 313.1H15.4A12 12 0 0 1 3.4 301.1Z"/>
<rect class="c cr" x="7.4" y="129" width="102.6" height="180.5" rx="12"/>
<rect class="c cy" x="110.5" y="206.6" width="84" height="70.6" rx="10"/>
<path class="cd cgy" d="M211 107.4A12 12 0 0 1 223 95.4H280V66.7H368.5A8 8 0 0 1 376.5 74.7V128.6A8 8 0 0 1 368.5 136.6H320V220.2A12 12 0 0 1 308 232.2H223A12 12 0 0 1 211 220.2Z"/>
<rect class="cd cG" x="43" y="-6" width="243.4" height="102" rx="12"/>
<rect class="c cb" x="52.3" y="2.8" width="102.9" height="88.3" rx="11"/>
<rect class="c cp" x="175.7" y="2.8" width="103.4" height="88.3" rx="11"/>
<rect class="c co" x="215.2" y="99.2" width="96" height="126.6" rx="12"/>
<path class="cd csb" d="M268 231.6A8 8 0 0 1 276 223.6H368.5A8 8 0 0 1 376.5 231.6V251.5A8 8 0 0 1 368.5 259.5H333.8V331.7A8 8 0 0 1 325.8 339.7H276A8 8 0 0 1 268 331.7Z"/>
</g>
<g id="k-edges" class="e">
<path d="M86.5 69H120.3"/><path d="M86.5 69H106V25H120.3"/><path d="M144.8 69H188.7"/><path d="M224.3 69H247"/><path d="M224.3 69H235.5V25H247"/><path d="M249.8 166.2H264V117.7H278.7"/><path d="M249.8 166.2H278.7"/><path d="M249.8 166.2H264V210.2H278.7"/><path d="M249.8 166.2H264V283H278.7"/><path d="M303.2 117.7H318V83.5H332.3"/><path d="M303.2 117.7H332.3"/><path d="M303.2 166.2H322.3"/><path d="M303.2 210.2H322.3"/><path d="M346.8 210.2H363.3"/><path d="M325 283H333.5V244.2H342.3"/><path d="M325 283H342.3"/><path d="M325 283H333.5V321.7H342.3"/><path d="M37.8 239.7H50V166.3H62.3"/><path d="M37.8 239.7H56.7"/><path d="M37.8 239.7H50V292.2H56.7"/><path d="M106.7 166.3H130V139.5H135"/><path d="M106.7 166.3H130V185.8H142.7"/><path d="M81.2 239.7H110.3"/><path d="M134.8 239.7H151V219.5H168.7"/><path d="M134.8 239.7H151V256.2H168.7"/><path d="M81.2 292.2H110.3"/><path d="M134.8 292.2H163.3"/>
<path class="tk" d="M86.5 69H106M224.3 69H235.5M303.2 117.7H318M249.8 166.2H264M106.7 166.3H130M37.8 239.7H50M134.8 239.7H151M325 283H333.5"/>
</g>
<g class="dots"><use href="#d3" x="147.5" y="25"/><use href="#d3" x="272.5" y="25"/><use href="#d3" x="272.5" y="69"/><use href="#d3" x="362" y="83.5"/><use href="#d3" x="362" y="117.7"/><use href="#d3" x="354" y="166.2"/><use href="#d3" x="392.5" y="210.2"/><use href="#d3" x="368.5" y="244.2"/><use href="#d3" x="368.5" y="283"/><use href="#d3" x="368.5" y="321.7"/><use href="#d3" x="176" y="139.5"/><use href="#d3" x="169.5" y="185.8"/><use href="#d3" x="195.5" y="219.5"/><use href="#d3" x="195.5" y="249"/><use href="#d3" x="190.5" y="292.2"/></g>
<g id="k1" class="n bl"><rect x="62" y="56.8" width="24.5" height="24.5"/><text x="74.3" y="75">1</text></g>
<g id="k2" class="n bl"><rect x="120.3" y="56.8" width="24.5" height="24.5"/><text x="132.6" y="75">2</text></g>
<g id="k3" class="n bl"><rect x="120.3" y="12.7" width="24.5" height="24.5"/><text x="132.6" y="30.9">3</text></g>
<g id="k4" class="n pu"><rect x="188.7" y="56.8" width="35.6" height="24.5"/><text x="206.5" y="75">4</text></g>
<g id="k5" class="n pu"><rect x="247" y="56.8" width="24.5" height="24.5"/><text x="259.3" y="75">5</text></g>
<g id="k6" class="n pu"><rect x="247" y="12.7" width="24.5" height="24.5"/><text x="259.3" y="30.9">6</text></g>
<g id="k7" class="n or"><rect x="225.3" y="154" width="24.5" height="24.5"/><text x="237.6" y="172.2">7</text></g>
<g id="k8" class="n or"><rect x="278.7" y="105.5" width="24.5" height="24.5"/><text x="291" y="123.7">8</text></g>
<g id="k9" class="n or"><rect x="278.7" y="154" width="24.5" height="24.5"/><text x="291" y="172.2">9</text></g>
<g id="k10" class="n or"><rect x="278.7" y="198" width="24.5" height="24.5"/><text x="291" y="216.2">10</text></g>
<g id="k11" class="n sb"><rect x="278.7" y="231.7" width="46.3" height="102.6"/><text x="301.9" y="289">11</text></g>
<g id="k12" class="n g1"><rect x="332.3" y="71.3" width="24.5" height="24.5"/><text x="344.6" y="89.5">12</text></g>
<g id="k13" class="n g2"><rect x="332.3" y="105.5" width="24.5" height="24.5"/><text x="344.6" y="123.7">13</text></g>
<g id="k14" class="n w"><rect x="322.3" y="154" width="24.5" height="24.5"/><text x="334.6" y="172.2">14</text></g>
<g id="k15" class="n w"><rect x="322.3" y="198" width="24.5" height="24.5"/><text x="334.6" y="216.2">15</text></g>
<g id="k16" class="n w"><rect x="363.3" y="198" width="24.5" height="24.5"/><text x="375.6" y="216.2">16</text></g>
<g id="k17" class="n sb"><rect x="342.3" y="232" width="24.5" height="24.5"/><text x="354.6" y="250.2">17</text></g>
<g id="k18" class="n w"><rect x="342.3" y="270.7" width="24.5" height="24.5"/><text x="354.6" y="288.9">18</text></g>
<g id="k19" class="n w"><rect x="342.3" y="309.5" width="24.5" height="24.5"/><text x="354.6" y="327.7">19</text></g>
<g id="k20" class="n rd"><rect x="13.3" y="227.5" width="24.5" height="24.5"/><text x="25.6" y="245.7">20</text></g>
<g id="k21" class="n rd"><rect x="62.3" y="144.3" width="44.4" height="44"/><text x="84.5" y="172.3">21</text></g>
<g id="k22" class="n rd"><rect x="56.7" y="227.5" width="24.5" height="24.5"/><text x="69" y="245.7">22</text></g>
<g id="k23" class="n rd"><rect x="56.7" y="280" width="24.5" height="24.5"/><text x="69" y="298.2">23</text></g>
<g id="k24" class="n w"><rect x="135" y="124.7" width="36.7" height="29.6"/><text x="153.4" y="145.5">24</text></g>
<g id="k25" class="n w"><rect x="142.7" y="173.3" width="23" height="25"/><text x="154.2" y="191.8">25</text></g>
<g id="k26" class="n ye"><rect x="110.3" y="227.5" width="24.5" height="24.5"/><text x="122.6" y="245.7">26</text></g>
<g id="k27" class="n w"><rect x="110.3" y="280" width="24.5" height="24.5"/><text x="122.6" y="298.2">27</text></g>
<g id="k28" class="n ye"><rect x="168.7" y="207.3" width="24.5" height="24.5"/><text x="181" y="225.5">28</text></g>
<g id="k29" class="n ye"><rect x="168.7" y="236.7" width="24.6" height="39"/><text x="181" y="262.2">29</text></g>
<g id="k30" class="n w"><rect x="163.3" y="280" width="24.5" height="24.5"/><text x="175.6" y="298.2">30</text></g>
</g>

<!-- Panel l -->
<g id="pl" transform="translate(886.5,1170.5) scale(0.993)">
<g id="l-clusters">
<rect class="cd lg" x="10.9" y="94.5" width="203.4" height="234.9" rx="26"/>
<rect class="cd lt" x="217.7" y="66" width="191" height="272.6" rx="26"/>
<rect class="cd lr" x="43.1" y="-6.5" width="244.1" height="101.7" rx="14"/>
</g>
<g id="l-edges" class="e">
<path d="M86.5 69H120.3"/><path d="M86.5 69H106V25H120.3"/><path d="M144.8 69H188.7"/><path d="M224.3 69H247"/><path d="M224.3 69H235.5V25H247"/><path d="M249.8 166.2H264V117.7H278.7"/><path d="M249.8 166.2H278.7"/><path d="M249.8 166.2H264V210.2H278.7"/><path d="M249.8 166.2H264V283H278.7"/><path d="M303.2 117.7H318V83.5H332.3"/><path d="M303.2 117.7H332.3"/><path d="M303.2 166.2H322.3"/><path d="M303.2 210.2H322.3"/><path d="M346.8 210.2H363.3"/><path d="M325 283H333.5V244.2H342.3"/><path d="M325 283H342.3"/><path d="M325 283H333.5V321.7H342.3"/><path d="M37.8 239.7H50V166.3H62.3"/><path d="M37.8 239.7H56.7"/><path d="M37.8 239.7H50V292.2H56.7"/><path d="M106.7 166.3H130V139.5H135"/><path d="M106.7 166.3H130V185.8H142.7"/><path d="M81.2 239.7H110.3"/><path d="M134.8 239.7H151V219.5H168.7"/><path d="M134.8 239.7H151V256.2H168.7"/><path d="M81.2 292.2H110.3"/><path d="M134.8 292.2H163.3"/>
<path class="tk" d="M86.5 69H106M224.3 69H235.5M303.2 117.7H318M249.8 166.2H264M106.7 166.3H130M37.8 239.7H50M134.8 239.7H151M325 283H333.5"/>
</g>
<g class="dots"><use href="#d3" x="147.5" y="25"/><use href="#d3" x="272.5" y="25"/><use href="#d3" x="272.5" y="69"/><use href="#d3" x="362" y="83.5"/><use href="#d3" x="362" y="117.7"/><use href="#d3" x="354" y="166.2"/><use href="#d3" x="392.5" y="210.2"/><use href="#d3" x="368.5" y="244.2"/><use href="#d3" x="368.5" y="283"/><use href="#d3" x="368.5" y="321.7"/><use href="#d3" x="176" y="139.5"/><use href="#d3" x="169.5" y="185.8"/><use href="#d3" x="195.5" y="219.5"/><use href="#d3" x="195.5" y="249"/><use href="#d3" x="190.5" y="292.2"/></g>
<g id="l1" class="n w"><rect x="62" y="56.8" width="24.5" height="24.5"/><text x="74.3" y="75">1</text></g>
<g id="l2" class="n w"><rect x="120.3" y="56.8" width="24.5" height="24.5"/><text x="132.6" y="75">2</text></g>
<g id="l3" class="n w"><rect x="120.3" y="12.7" width="24.5" height="24.5"/><text x="132.6" y="30.9">3</text></g>
<g id="l4" class="n w"><rect x="188.7" y="56.8" width="35.6" height="24.5"/><text x="206.5" y="75">4</text></g>
<g id="l5" class="n w"><rect x="247" y="56.8" width="24.5" height="24.5"/><text x="259.3" y="75">5</text></g>
<g id="l6" class="n w"><rect x="247" y="12.7" width="24.5" height="24.5"/><text x="259.3" y="30.9">6</text></g>
<g id="l7" class="n w"><rect x="225.3" y="154" width="24.5" height="24.5"/><text x="237.6" y="172.2">7</text></g>
<g id="l8" class="n w"><rect x="278.7" y="105.5" width="24.5" height="24.5"/><text x="291" y="123.7">8</text></g>
<g id="l9" class="n w"><rect x="278.7" y="154" width="24.5" height="24.5"/><text x="291" y="172.2">9</text></g>
<g id="l10" class="n w"><rect x="278.7" y="198" width="24.5" height="24.5"/><text x="291" y="216.2">10</text></g>
<g id="l11" class="n w"><rect x="278.7" y="231.7" width="46.3" height="102.6"/><text x="301.9" y="289">11</text></g>
<g id="l12" class="n w"><rect x="332.3" y="71.3" width="24.5" height="24.5"/><text x="344.6" y="89.5">12</text></g>
<g id="l13" class="n w"><rect x="332.3" y="105.5" width="24.5" height="24.5"/><text x="344.6" y="123.7">13</text></g>
<g id="l14" class="n w"><rect x="322.3" y="154" width="24.5" height="24.5"/><text x="334.6" y="172.2">14</text></g>
<g id="l15" class="n w"><rect x="322.3" y="198" width="24.5" height="24.5"/><text x="334.6" y="216.2">15</text></g>
<g id="l16" class="n w"><rect x="363.3" y="198" width="24.5" height="24.5"/><text x="375.6" y="216.2">16</text></g>
<g id="l17" class="n w"><rect x="342.3" y="232" width="24.5" height="24.5"/><text x="354.6" y="250.2">17</text></g>
<g id="l18" class="n w"><rect x="342.3" y="270.7" width="24.5" height="24.5"/><text x="354.6" y="288.9">18</text></g>
<g id="l19" class="n w"><rect x="342.3" y="309.5" width="24.5" height="24.5"/><text x="354.6" y="327.7">19</text></g>
<g id="l20" class="n w"><rect x="13.3" y="227.5" width="24.5" height="24.5"/><text x="25.6" y="245.7">20</text></g>
<g id="l21" class="n w"><rect x="62.3" y="144.3" width="44.4" height="44"/><text x="84.5" y="172.3">21</text></g>
<g id="l22" class="n w"><rect x="56.7" y="227.5" width="24.5" height="24.5"/><text x="69" y="245.7">22</text></g>
<g id="l23" class="n w"><rect x="56.7" y="280" width="24.5" height="24.5"/><text x="69" y="298.2">23</text></g>
<g id="l24" class="n w"><rect x="135" y="124.7" width="36.7" height="29.6"/><text x="153.4" y="145.5">24</text></g>
<g id="l25" class="n w"><rect x="142.7" y="173.3" width="23" height="25"/><text x="154.2" y="191.8">25</text></g>
<g id="l26" class="n w"><rect x="110.3" y="227.5" width="24.5" height="24.5"/><text x="122.6" y="245.7">26</text></g>
<g id="l27" class="n w"><rect x="110.3" y="280" width="24.5" height="24.5"/><text x="122.6" y="298.2">27</text></g>
<g id="l28" class="n w"><rect x="168.7" y="207.3" width="24.5" height="24.5"/><text x="181" y="225.5">28</text></g>
<g id="l29" class="n w"><rect x="168.7" y="236.7" width="24.6" height="39"/><text x="181" y="262.2">29</text></g>
<g id="l30" class="n w"><rect x="163.3" y="280" width="24.5" height="24.5"/><text x="175.6" y="298.2">30</text></g>
</g>

<g id="captions">
<text class="cap" x="210" y="376">(a) Flat Design</text>
<text class="cap" x="652" y="376">(b) Level 1 - 1st Step</text>
<text class="cap" x="1094" y="376">(c) Level 1 - 2st Step</text>
<text class="cap" x="211" y="759">(d) Level 1 - 3st Step</text>
<text class="cap" x="652" y="759">(e) Level 1 - Cluster Formation</text>
<text class="cap" x="1094" y="759">(f) Level 2 - 1st Step</text>
<text class="cap" x="211" y="1148">(g) Level 2 - 2nd Step</text>
<text class="cap" x="652" y="1148">(h) Level 2 - Cluster Formation</text>
<text class="cap" x="1095" y="1148">(i) Level 3 - 1st Step</text>
<text class="cap" x="211" y="1548">(j) Level 3 - 2nd Step</text>
<text class="cap" x="652" y="1548">(k) Level 3 - 3rd Step</text>
<text class="cap" x="1102" y="1548">(l) Final Clusters</text>
</g>
</svg>
